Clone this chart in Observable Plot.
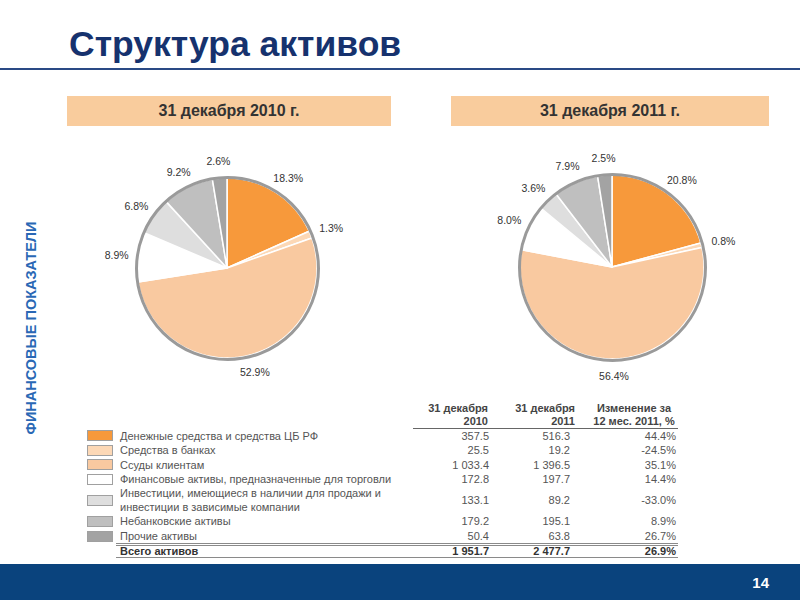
<!DOCTYPE html>
<html><head><meta charset="utf-8">
<script src="https://cdn.jsdelivr.net/npm/d3@7"></script>
<script src="https://cdn.jsdelivr.net/npm/@observablehq/plot@0.6"></script>
<style>
body{margin:0;width:800px;height:600px;position:relative;overflow:hidden;background:#fff;font-family:"Liberation Sans",Arial,sans-serif;}
#title{position:absolute;left:69px;top:24px;font-size:35.5px;font-weight:bold;color:#16326e;white-space:nowrap;}
#rule{position:absolute;left:0;top:68px;width:800px;height:2px;background:#2a4a85;}
.hdr{position:absolute;top:96px;height:30px;line-height:30px;background:#f9cc9d;color:#333;font-weight:bold;font-size:16px;text-align:center;}
#side{position:absolute;left:31px;top:328px;transform:translate(-50%,-50%) rotate(-90deg);color:#2a68b5;font-size:14.5px;font-weight:bold;white-space:nowrap;}
.pie{position:absolute;}
#tbl{position:absolute;left:86px;top:402px;border-collapse:collapse;table-layout:fixed;font-size:11px;color:#555;}
#tbl td{padding:0;height:14.3px;line-height:14px;vertical-align:middle;white-space:nowrap;}
#tbl .h td{height:26px;line-height:13px;font-weight:bold;color:#444;}
#tbl .h td.n{border-bottom:1.5px solid #666;}
#tbl td.c1{text-align:right;padding-right:1px;}
#tbl td.c2{text-align:right;padding-right:20px;}
#tbl td.c3{text-align:right;padding-right:2px;}
#tbl .h td.c1{padding-right:2px;}
#tbl .h td.c2{padding-right:15px;}
#tbl .h td.c3{text-align:center;padding-right:0;}
#tbl td.lab{padding-left:4px;}
#tbl .two td{height:28px;}
#tbl .last td.b{border-bottom:3px double #8a8a8a;}
#tbl .tot td{font-weight:bold;color:#333;height:11px;line-height:11px;border-bottom:1.5px solid #8a8a8a;}
#tbl .tot td.sw{border-bottom:none;}
.swatch{width:24px;height:9px;border:1px solid #a0a0a0;margin-left:1px;}
#footer{position:absolute;left:0;top:564px;width:800px;height:36px;background:#0a437d;}
#page{position:absolute;right:31px;top:574px;color:#fff;font-weight:bold;font-size:15px;}
</style></head><body>
<div id="title">Структура активов</div>
<div id="rule"></div>
<div class="hdr" style="left:67px;width:324px">31 декабря 2010 г.</div>
<div class="hdr" style="left:451px;width:318px">31 декабря 2011 г.</div>
<div id="side">ФИНАНСОВЫЕ ПОКАЗАТЕЛИ</div>
<div id="pies"></div>
<table id="tbl"></table>
<div id="footer"></div>
<div id="page">14</div>
<script>
// ---- data ----
const categories = [
  "Денежные средства и средства ЦБ РФ",
  "Средства в банках",
  "Ссуды клиентам",
  "Финансовые активы, предназначенные для торговли",
  "Инвестиции, имеющиеся в наличии для продажи и<br>инвестиции в зависимые компании",
  "Небанковские активы",
  "Прочие активы"
];
const values2010 = [357.5, 25.5, 1033.4, 172.8, 133.1, 179.2, 50.4];
const values2011 = [516.3, 19.2, 1396.5, 197.7, 89.2, 195.1, 63.8];
const change12m = ["44.4%", "-24.5%", "35.1%", "14.4%", "-33.0%", "8.9%", "26.7%"];
const share2010 = [18.3, 1.3, 52.9, 8.9, 6.8, 9.2, 2.6];
const share2011 = [20.8, 0.8, 56.4, 8.0, 3.6, 7.9, 2.5];
const totalLabel = "Всего активов";
const totals = ["1 951.7", "2 477.7", "26.9%"];
const headerCols = ["31 декабря<br>2010", "31 декабря<br>2011", "Изменение за<br>12 мес. 2011, %"];
const colors = ["#f7993b", "#fcd8b6", "#f9c9a0", "#ffffff", "#dedede", "#bfbfbf", "#a3a3a3"];

const fmt = v => d3.format(",.1f")(v).replace(/,/g, " ");

// ---- pies ----
function pie(shares, r, w, h) {
  const total = d3.sum(shares);
  let acc = 0;
  const pts = [], labels = [];
  shares.forEach((s, i) => {
    const a0 = acc / total * 2 * Math.PI; acc += s;
    const a1 = acc / total * 2 * Math.PI;
    const n = Math.max(2, Math.ceil((a1 - a0) / (Math.PI / 180)));
    for (let k = 0; k <= n; k++) {
      const a = a0 + (a1 - a0) * k / n;
      pts.push({cat: categories[i], x: Math.sin(a), y: Math.cos(a)});
    }
    const am = (a0 + a1) / 2;
    labels.push({x: 1.24 * Math.sin(am), y: 1.19 * Math.cos(am), text: s.toFixed(1) + "%"});
  });
  return Plot.plot({
    width: w, height: h, margin: 0,
    style: {fontFamily: "Liberation Sans, Arial, sans-serif", background: "transparent", overflow: "visible"},
    x: {domain: [-w / 2 / r, w / 2 / r], axis: null},
    y: {domain: [-h / 2 / r, h / 2 / r], axis: null},
    color: {domain: categories, range: colors},
    marks: [
      Plot.area(pts, {x1: "x", y1: "y", x2: 0, y2: 0, z: "cat", fill: "cat", stroke: "white", strokeWidth: 1.5}),
      Plot.dot([0], {x: 0, y: 0, r: r + 1, stroke: "#9a9a9a", strokeWidth: 3, fill: "none"}),
      Plot.text(labels, {x: "x", y: "y", text: "text", fontSize: 10.5, fill: "#333"})
    ]
  });
}
const pies = document.getElementById("pies");
[[share2010, 90, 227, 268], [share2011, 92, 612, 267]].forEach(([s, r, cx, cy]) => {
  const W = 300, H = 240;
  const el = pie(s, r, W, H);
  const d = document.createElement("div");
  d.className = "pie";
  d.style.left = (cx - W / 2) + "px";
  d.style.top = (cy - H / 2) + "px";
  d.appendChild(el);
  pies.appendChild(d);
});

// ---- table ----
const tbl = document.getElementById("tbl");
tbl.innerHTML =
  `<colgroup><col style="width:30px"><col style="width:297px"><col style="width:77px"><col style="width:100px"><col style="width:88px"></colgroup>` +
  `<tr class="h"><td></td><td></td><td class="n c1">${headerCols[0]}</td><td class="n c2">${headerCols[1]}</td><td class="n c3">${headerCols[2]}</td></tr>` +
  categories.map((c, i) => {
    const cls = [c.includes("<br>") ? "two" : "", i === categories.length - 1 ? "last" : ""].join(" ");
    return `<tr class="${cls}"><td class="sw"><div class="swatch" style="background:${colors[i]}"></div></td>` +
      `<td class="lab b">${c}</td>` +
      `<td class="c1 b">${fmt(values2010[i])}</td><td class="c2 b">${fmt(values2011[i])}</td><td class="c3 b">${change12m[i]}</td></tr>`;
  }).join("") +
  `<tr class="tot"><td class="sw"></td><td class="lab">${totalLabel}</td><td class="c1">${totals[0]}</td><td class="c2">${totals[1]}</td><td class="c3">${totals[2]}</td></tr>`;
</script>
</body></html>
